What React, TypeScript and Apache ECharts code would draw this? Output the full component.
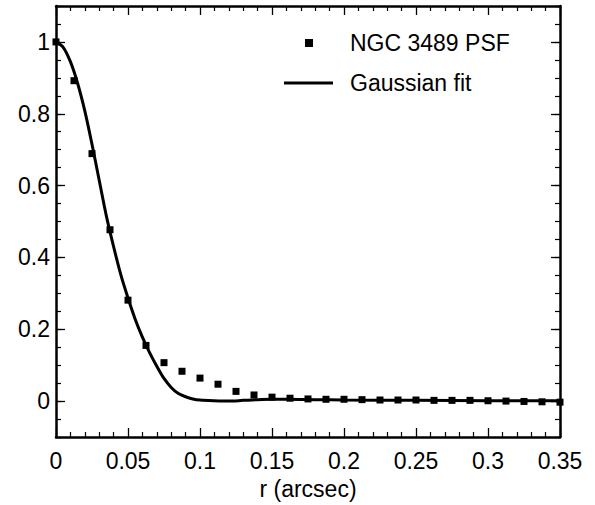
import { useEffect, useRef } from 'react'
import * as echarts from 'echarts'

// NGC 3489 PSF samples (r in arcsec, normalised intensity)
const psfR = [
  0, 0.0125, 0.025, 0.0375, 0.05, 0.0625, 0.075, 0.0875, 0.1, 0.1125, 0.125, 0.1375, 0.15,
  0.1625, 0.175, 0.1875, 0.2, 0.2125, 0.225, 0.2375, 0.25, 0.2625, 0.275, 0.2875, 0.3, 0.3125,
  0.325, 0.3375, 0.35,
]
const psfV = [
  1.0, 0.892, 0.689, 0.477, 0.281, 0.155, 0.107, 0.083, 0.064, 0.047, 0.027, 0.017, 0.011,
  0.008, 0.006, 0.005, 0.005, 0.004, 0.003, 0.003, 0.003, 0.002, 0.002, 0.002, 0.001, 0.0,
  -0.001, -0.002, -0.003,
]

// Gaussian fit curve
const fitR = [
  0, 0.005, 0.01, 0.015, 0.02, 0.025, 0.03, 0.035, 0.04, 0.045, 0.05, 0.055, 0.06, 0.065, 0.07,
  0.075, 0.08, 0.085, 0.09, 0.095, 0.1, 0.11, 0.12, 0.13, 0.14, 0.15, 0.16, 0.18, 0.2, 0.25, 0.3,
  0.35,
]
const fitV = [
  1.0, 0.985, 0.945, 0.885, 0.808, 0.715, 0.615, 0.515, 0.43, 0.352, 0.287, 0.228, 0.178, 0.135,
  0.097, 0.063, 0.038, 0.021, 0.012, 0.006, 0.003, 0.001, 0.0, 0.002, 0.004, 0.005, 0.005, 0.004,
  0.003, 0.002, 0.001, 0.001,
]

const yMajor = [0, 0.2, 0.4, 0.6, 0.8, 1]
const yLabels = ['0', '0.2', '0.4', '0.6', '0.8', '1']
const xLabels = ['0', '0.05', '0.1', '0.15', '0.2', '0.25', '0.3', '0.35']

const FONT = 'Liberation Sans, Arial, Helvetica, sans-serif'
const FS = 23

export default function App() {
  const chartRef = useRef<HTMLDivElement>(null)

  useEffect(() => {
    if (!chartRef.current) return
    document.body.style.margin = '0'

    const chart = echarts.init(chartRef.current, null, { renderer: 'svg' })

    const line = { show: true, onZero: false, lineStyle: { color: '#000', width: 2.5 } }
    const xBase = {
      type: 'value' as const,
      min: 0,
      max: 0.35,
      interval: 0.05,
      axisLine: line,
      axisTick: { show: true, inside: true, length: 9, lineStyle: { color: '#000', width: 1.3 } },
      minorTick: { show: true, splitNumber: 5, length: 5, lineStyle: { color: '#000', width: 1.2 } },
      splitLine: { show: false },
    }
    const yBase = {
      type: 'value' as const,
      min: -0.1,
      max: 1.1,
      interval: 0.05,
      axisLine: line,
      splitLine: { show: false },
    }

    const fmtY = (v: number) => {
      const i = yMajor.findIndex((m) => Math.abs(m - v) < 1e-6)
      return i >= 0 ? yLabels[i] : ''
    }
    const fmtX = (v: number) => xLabels[Math.round(v / 0.05)] ?? ''

    const option: echarts.EChartsOption = {
      animation: false,
      backgroundColor: '#fff',
      grid: { left: 56, right: 35, top: 6, bottom: 63 },
      xAxis: [
        {
          ...xBase,
          position: 'bottom',
          name: 'r (arcsec)',
          nameLocation: 'middle',
          nameGap: 40,
          nameTextStyle: { color: '#000', fontSize: FS, fontFamily: FONT },
          axisLabel: {
            color: '#000',
            fontSize: FS,
            fontFamily: FONT,
            margin: 12,
            formatter: fmtX,
          },
        },
        { ...xBase, position: 'top', axisLabel: { show: false } },
      ],
      yAxis: [
        {
          ...yBase,
          position: 'left',
          axisTick: {
            show: true,
            inside: true,
            length: 9,
            customValues: yMajor,
            lineStyle: { color: '#000', width: 1.3 },
          },
          axisLabel: {
            color: '#000',
            fontSize: FS,
            fontFamily: FONT,
            margin: 6,
            customValues: yMajor,
            formatter: fmtY,
          },
        },
        {
          ...yBase,
          position: 'left',
          axisLine: { show: false, onZero: false },
          axisTick: { show: true, inside: true, length: 5, lineStyle: { color: '#000', width: 1.2 } },
          axisLabel: { show: false },
        },
        {
          ...yBase,
          position: 'right',
          axisTick: {
            show: true,
            inside: true,
            length: 9,
            customValues: yMajor,
            lineStyle: { color: '#000', width: 1.3 },
          },
          axisLabel: { show: false },
        },
        {
          ...yBase,
          position: 'right',
          axisLine: { show: false, onZero: false },
          axisTick: { show: true, inside: true, length: 5, lineStyle: { color: '#000', width: 1.2 } },
          axisLabel: { show: false },
        },
      ],
      series: [
        {
          name: 'Gaussian fit',
          type: 'line',
          xAxisIndex: 0,
          yAxisIndex: 0,
          showSymbol: false,
          smooth: 0.3,
          lineStyle: { color: '#000', width: 3 },
          data: fitR.map((r, i) => [r, fitV[i]]),
        },
        {
          name: 'NGC 3489 PSF',
          type: 'scatter',
          xAxisIndex: 0,
          yAxisIndex: 0,
          symbol: 'rect',
          symbolSize: 7,
          itemStyle: { color: '#000', opacity: 1 },
          data: psfR.map((r, i) => [r, psfV[i]]),
        },
      ],
      graphic: [
        { type: 'rect', shape: { x: 305, y: 39, width: 8, height: 8 }, style: { fill: '#000' } },
        {
          type: 'text',
          x: 350,
          y: 43,
          style: {
            text: 'NGC 3489 PSF',
            fill: '#000',
            fontSize: FS,
            fontFamily: FONT,
            verticalAlign: 'middle',
          },
        },
        {
          type: 'line',
          shape: { x1: 284, y1: 83, x2: 333, y2: 83 },
          style: { stroke: '#000', lineWidth: 3 },
        },
        {
          type: 'text',
          x: 350,
          y: 83,
          style: {
            text: 'Gaussian fit',
            fill: '#000',
            fontSize: FS,
            fontFamily: FONT,
            verticalAlign: 'middle',
          },
        },
      ],
    }

    chart.setOption(option)

    return () => {
      chart.dispose()
    }
  }, [])

  return <div ref={chartRef} style={{ width: '595px', height: '505px' }} />
}
